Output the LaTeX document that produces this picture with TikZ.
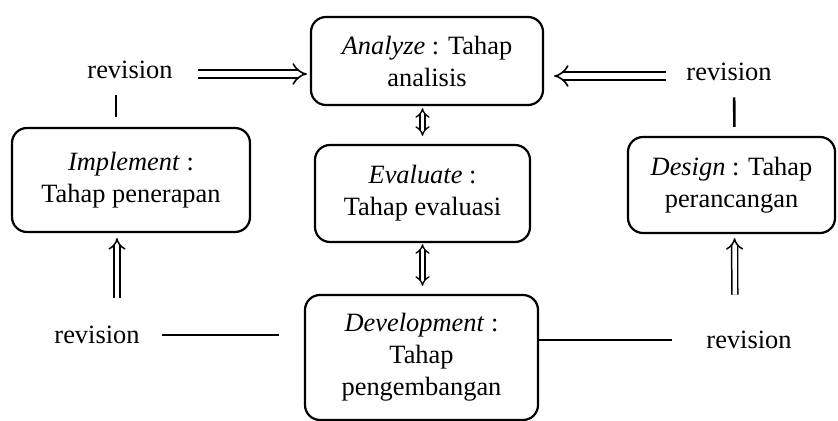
\documentclass[tikz,border=0pt]{standalone}
\usepackage{fontspec}
\setmainfont{Liberation Serif}
\usetikzlibrary{arrows.meta,positioning}

\begin{document}
\begin{tikzpicture}[
  x=0.5pt, y=-0.5pt,
  font=\fontsize{13.2}{16}\selectfont,
  phase/.style={
    draw,
    line width=1.1pt,
    rounded corners=7.5pt,
    align=center,
    inner sep=2pt
  },
  revlabel/.style={inner sep=0pt},
  revarrow/.style={double, double distance=3pt, line width=0.8pt, -{Implies[length=5pt, width=10pt]}},
  uparrow/.style={double, double distance=2.2pt, line width=0.75pt, -{Implies[length=4pt, width=8pt]}},
  duoarrow/.style={double, double distance=1.8pt, line width=0.65pt, {Implies[length=3.5pt, width=7pt]}-{Implies[length=3.5pt, width=7pt]}},
  plain/.style={line width=1.3pt}
]
\useasboundingbox (0,0) rectangle (838,421);

\node[phase, minimum width=116pt, minimum height=44pt] (analyze) at (427,61)
{\textit{Analyze} : Tahap\\analisis};

\node[phase, minimum width=107.5pt, minimum height=48.5pt] (evaluate) at (422.5,193.5)
{\textit{Evaluate} :\\Tahap evaluasi};

\node[phase, minimum width=116.5pt, minimum height=62.5pt] (develop) at (421.5,357.5)
{\textit{Development} :\\Tahap\\pengembangan};

\node[phase, minimum width=119pt, minimum height=52pt] (implement) at (131,180)
{\textit{Implement} :\\Tahap penerapan};

\node[phase, minimum width=103.5pt, minimum height=48pt] (design) at (731.5,185)
{\textit{Design} : Tahap\\perancangan};

\node[revlabel] (revTL) at (130,70) {revision};
\node[revlabel] (revTR) at (729,72) {revision};
\node[revlabel] (revBL) at (97,335) {revision};
\node[revlabel] (revBR) at (749,340) {revision};

% Revision loops
\draw[revarrow, shorten <=12.5pt, shorten >=1.5pt] ([yshift=-2pt]revTL.east) -- ([yshift=-2pt]analyze.west |- revTL.east);
\draw[revarrow, shorten <=10pt, shorten >=5pt] ([yshift=-2pt]revTR.west) -- ([yshift=-2pt]analyze.east |- revTR.west);
\draw[plain, shorten <=8pt, shorten >=5pt] ([xshift=-7pt]revTL.south) -- ([xshift=-7.5pt]implement.north);
\draw[plain, shorten <=8pt, shorten >=4.5pt] ([xshift=2.5pt]revTR.south) -- ([xshift=1.5pt]design.north);
\draw[uparrow, shorten <=14pt, shorten >=2.5pt] ([xshift=10pt]revBL.north) -- ([xshift=-7pt]implement.south);
\draw[uparrow, shorten <=18pt, shorten >=2pt] ([xshift=-7pt]revBR.north) -- ([xshift=1.5pt]design.south);
\draw[plain, shorten <=11pt, shorten >=12.5pt] (revBL.east) -- (develop.west |- revBL.east);
\draw[plain, shorten >=17pt] (develop.east |- revBR.west) -- (revBR.west);

% Evaluation
\draw[duoarrow, shorten <=1pt, shorten >=4pt] (analyze.south -| evaluate.north) -- (evaluate.north);
\draw[duoarrow, shorten <=0.5pt, shorten >=4pt] (evaluate.south) -- (evaluate.south |- develop.north);

\end{tikzpicture}
\end{document}
